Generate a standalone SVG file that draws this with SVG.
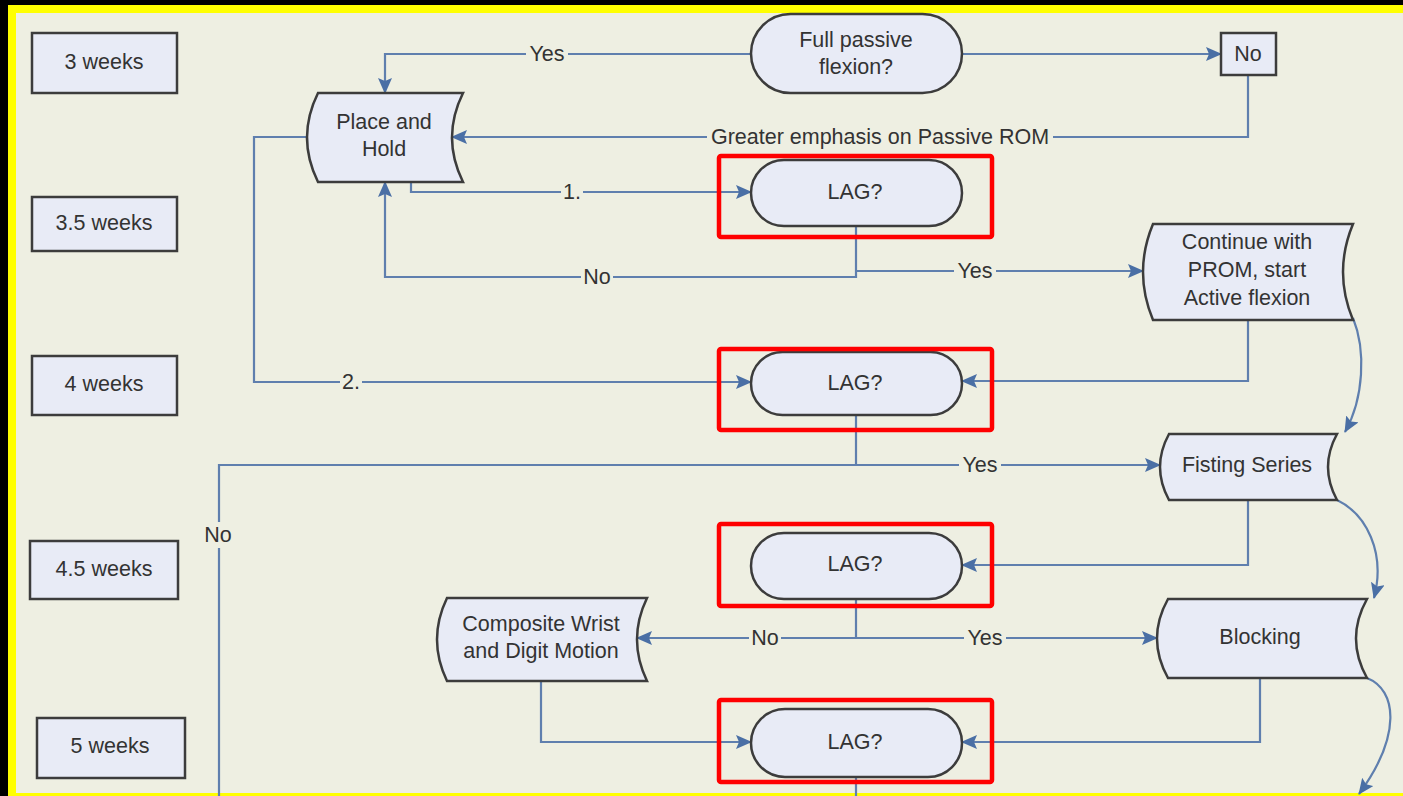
<svg xmlns="http://www.w3.org/2000/svg" width="1403" height="796" viewBox="0 0 1403 796">
<style>
.node{fill:#e8ebf6;stroke:#3c3c3c;stroke-width:2.5}
.t{font-family:"Liberation Sans",Arial,sans-serif;font-size:21.5px;fill:#333;text-anchor:middle;dominant-baseline:central}
.lbl{font-family:"Liberation Sans",Arial,sans-serif;font-size:21.5px;fill:#333;text-anchor:middle;dominant-baseline:central}
.bg{fill:#eeefe2}
.c{fill:none;stroke:#5f7fae;stroke-width:2.2}
.ca{fill:none;stroke:#5f7fae;stroke-width:2.2;marker-end:url(#ah)}
.hl{fill:none;stroke:#ff0000;stroke-width:4.5}
</style>
<defs>
<marker id="ah" markerWidth="16" markerHeight="14" refX="15" refY="7" orient="auto" markerUnits="userSpaceOnUse">
<path d="M0,0 L16,7 L0,14 L3,7 Z" fill="#4a6fa5"/>
</marker>
</defs>
<rect x="0" y="0" width="1403" height="796" fill="#000"/>
<rect x="8" y="5" width="1400" height="800" fill="#ffff00"/>
<rect x="16" y="13" width="1392" height="780" fill="#eeefe2"/>

<g id="connectors">
<path class="ca" d="M751,54 L385,54 L385,93"/>
<path class="ca" d="M962,54 L1221,54"/>
<path class="ca" d="M1248,75 L1248,137 L452,137"/>
<path class="ca" d="M411,182 L411,192 L751,192"/>
<path class="ca" d="M856,226 L856,277 L385,277 L385,182"/>
<path class="ca" d="M856,271 L1143,271"/>
<path class="ca" d="M307,137 L254,137 L254,382 L751,382"/>
<path class="ca" d="M1248,320 L1248,381 L962,381"/>
<path class="ca" d="M1353,318 C1366,350 1364,398 1345,432"/>
<path class="c" d="M856,415 L856,465 L219,465 L219,796"/>
<path class="ca" d="M856,465 L1160,465"/>
<path class="ca" d="M1248,500 L1248,565 L962,565"/>
<path class="ca" d="M1337,500 C1366,514 1386,552 1374,598"/>
<path class="ca" d="M856,599 L856,638 L637,638"/>
<path class="ca" d="M856,638 L1157,638"/>
<path class="ca" d="M541,681 L541,742 L751,742"/>
<path class="ca" d="M1260,678 L1260,742 L962,742"/>
<path class="ca" d="M1367,678 C1397,690 1402,735 1359,794"/>
<path class="c" d="M856,777 L856,796"/>
<rect class="bg" x="526" y="43" width="42" height="22"/><text class="lbl" x="547" y="54">Yes</text>
<rect class="bg" x="707" y="126" width="346" height="22"/><text class="lbl" x="880" y="137">Greater emphasis on Passive ROM</text>
<rect class="bg" x="561" y="181" width="22" height="22"/><text class="lbl" x="572" y="192">1.</text>
<rect class="bg" x="581" y="266" width="32" height="22"/><text class="lbl" x="597" y="277">No</text>
<rect class="bg" x="954" y="260" width="42" height="22"/><text class="lbl" x="975" y="271">Yes</text>
<rect class="bg" x="340" y="371" width="22" height="22"/><text class="lbl" x="351" y="382">2.</text>
<rect class="bg" x="959" y="454" width="42" height="22"/><text class="lbl" x="980" y="465">Yes</text>
<rect class="bg" x="202" y="522" width="32" height="26"/><text class="lbl" x="218" y="535">No</text>
<rect class="bg" x="749" y="627" width="32" height="22"/><text class="lbl" x="765" y="638">No</text>
<rect class="bg" x="964" y="627" width="42" height="22"/><text class="lbl" x="985" y="638">Yes</text>
</g>

<g id="w3"><rect class="node" x="32" y="33" width="145" height="60"/><text class="t" x="104" y="62">3 weeks</text></g>
<g id="w35"><rect class="node" x="32" y="197" width="145" height="54"/><text class="t" x="104" y="223">3.5 weeks</text></g>
<g id="w4"><rect class="node" x="32" y="356" width="145" height="59"/><text class="t" x="104" y="384">4 weeks</text></g>
<g id="w45"><rect class="node" x="30" y="541" width="148" height="58"/><text class="t" x="104" y="569">4.5 weeks</text></g>
<g id="w5"><rect class="node" x="37" y="718" width="148" height="60"/><text class="t" x="110" y="746">5 weeks</text></g>

<g id="fullpassive"><rect class="node" x="751" y="14" width="211" height="79" rx="39.5"/><text class="t" x="856" y="40">Full passive</text><text class="t" x="856" y="67">flexion?</text></g>
<g id="nobox"><rect class="node" x="1221" y="33" width="55" height="42"/><text class="t" x="1248" y="54">No</text></g>
<g id="placehold"><path class="node" d="M318,93 L463,93 Q441,137.5 463,182 L318,182 Q296,137.5 318,93 Z"/><text class="t" x="384" y="122">Place and</text><text class="t" x="384" y="149">Hold</text></g>
<g id="lag1"><rect class="node" x="751" y="160" width="211" height="66" rx="33"/><text class="t" x="855" y="192">LAG?</text></g>
<g id="continue"><path class="node" d="M1153,224 L1353,224 Q1333,272 1353,320 L1153,320 Q1133,272 1153,224 Z"/><text class="t" x="1247" y="242">Continue with</text><text class="t" x="1247" y="270">PROM, start</text><text class="t" x="1247" y="298">Active flexion</text></g>
<g id="lag2"><rect class="node" x="751" y="352" width="211" height="63" rx="31.5"/><text class="t" x="855" y="383">LAG?</text></g>
<g id="fisting"><path class="node" d="M1169,434 L1337,434 Q1319,467 1337,500 L1169,500 Q1151,467 1169,434 Z"/><text class="t" x="1247" y="465">Fisting Series</text></g>
<g id="lag3"><rect class="node" x="751" y="533" width="211" height="66" rx="33"/><text class="t" x="855" y="564">LAG?</text></g>
<g id="composite"><path class="node" d="M447,598 L647,598 Q627,639.5 647,681 L447,681 Q427,639.5 447,598 Z"/><text class="t" x="541" y="624">Composite Wrist</text><text class="t" x="541" y="651">and Digit Motion</text></g>
<g id="blocking"><path class="node" d="M1168,599 L1367,599 Q1345,638.5 1367,678 L1168,678 Q1146,638.5 1168,599 Z"/><text class="t" x="1260" y="637">Blocking</text></g>
<g id="lag4"><rect class="node" x="751" y="709" width="211" height="68" rx="34"/><text class="t" x="855" y="742">LAG?</text></g>

<g id="highlights">
<rect class="hl" x="719" y="156" width="273" height="81" rx="2"/>
<rect class="hl" x="719" y="349" width="273" height="81" rx="2"/>
<rect class="hl" x="719" y="524" width="273" height="82" rx="2"/>
<rect class="hl" x="719" y="700" width="273" height="82" rx="2"/>
</g>
</svg>
